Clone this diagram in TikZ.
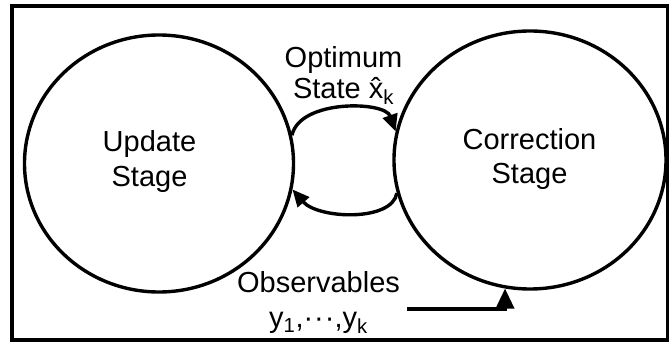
\documentclass[tikz,border=0pt]{standalone}
\usepackage{fontspec}
\setmainfont{Liberation Sans}
\usetikzlibrary{arrows.meta,shapes.geometric}
\begin{document}
\begin{tikzpicture}[x=1pt,y=1pt,
  stage/.style={draw, line width=3.4pt, ellipse, inner sep=0pt},
  lbl/.style={align=center, anchor=base, inner sep=0pt},
  conn/.style={line width=3.4pt, -{Triangle[length=17pt,width=15pt]}},
  obsconn/.style={line width=3.4pt, -{Triangle[length=20pt,width=18pt]}},
]
\useasboundingbox (0,0) rectangle (669,343);
\draw[line width=4pt] (12,3) rectangle (667.5,336.5);
\node[stage, minimum width=269pt, minimum height=257pt] (upd) at (159,179.5) {};
\node[stage, minimum width=272pt, minimum height=258pt] (cor) at (530,183) {};
\node[lbl, font=\fontsize{29}{34.5}\selectfont] (updlbl) at (149.5,157) {Update\\Stage};
\node[lbl, font=\fontsize{29}{34.5}\selectfont] (corlbl) at (529.5,159) {Correction\\Stage};
\node[lbl, font=\fontsize{29}{31}\selectfont] (optlbl) at (343.5,244.7) {Optimum\\State \^{x}\textsubscript{k}};
\node[lbl, font=\fontsize{29}{35}\selectfont] (obslbl) at (318.5,16) {Observables\\y\textsubscript{1},·\kern1pt·\kern1pt·,y\textsubscript{k}};
\draw[conn] (upd.12) .. controls (300,244) and (385,242) .. (cor.168);
\draw[conn] (cor.194) .. controls (392,121) and (318,124) .. (upd.349);
\coordinate (obsin) at (407,34);
\draw[obsconn] (obsin) -| (cor.259);
\end{tikzpicture}
\end{document}
